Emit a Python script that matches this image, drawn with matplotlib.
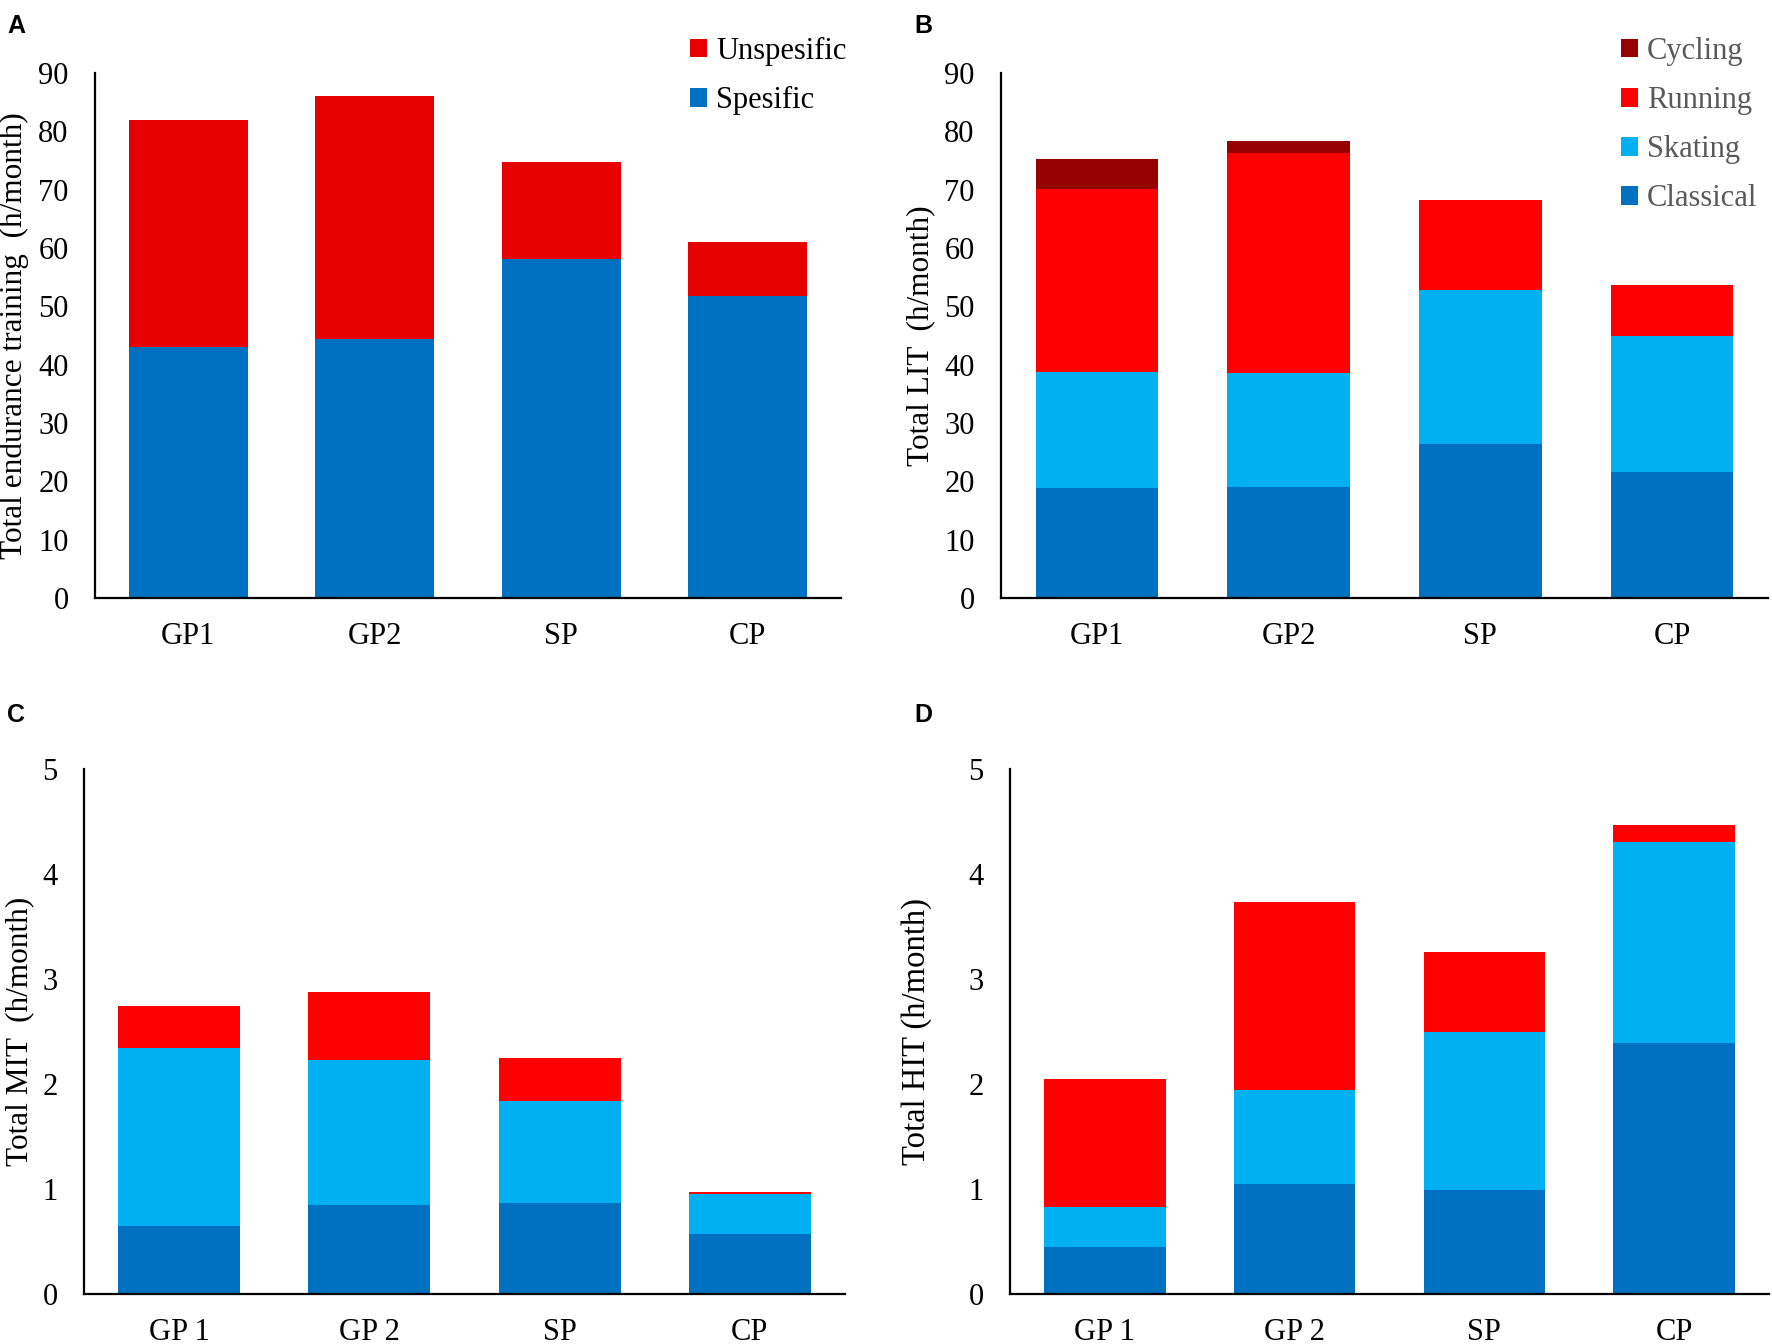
import numpy as np
import matplotlib.pyplot as plt
from matplotlib.patches import Patch

# panel A
groups_a = ['GP1', 'GP2', 'SP', 'CP']
spesific = [43.1, 44.4, 58.1, 51.8]
unspesific = [38.8, 41.6, 16.6, 9.3]

# panel B (LIT)
groups_b = ['GP1', 'GP2', 'SP', 'CP']
lit_classical = [18.8, 19.1, 26.4, 21.6]
lit_skating = [20.0, 19.5, 26.4, 23.4]
lit_running = [31.4, 37.7, 15.4, 8.7]
lit_cycling = [5.1, 2.0, 0.1, 0.0]

# panel C (MIT)
groups_cd = ['GP 1', 'GP 2', 'SP', 'CP']
mit_classical = [0.65, 0.845, 0.865, 0.57]
mit_skating = [1.69, 1.385, 0.97, 0.386]
mit_running = [0.40, 0.65, 0.41, 0.012]

# panel D (HIT)
hit_classical = [0.447, 1.048, 0.99, 2.39]
hit_skating = [0.383, 0.897, 1.51, 1.915]
hit_running = [1.222, 1.79, 0.756, 0.16]

BLUE = '#0070C0'
LIGHT = '#00B0F0'
RED = '#FF0000'
RED_A = '#E60000'
DARK = '#960000'

plt.rcParams['font.family'] = ['Liberation Serif', 'DejaVu Serif']

fig = plt.figure(figsize=(17.72, 13.44), dpi=100)
W, H = 1772.0, 1344.0


def make_ax(left, right, top, bottom):
    return fig.add_axes([left / W, 1 - bottom / H, (right - left) / W, (bottom - top) / H])


def style(ax, groups, ymax, step):
    x = np.arange(len(groups))
    ax.set_xlim(-0.5, len(groups) - 0.5)
    ax.set_ylim(0, ymax)
    ax.set_yticks(np.arange(0, ymax + step / 2, step))
    ax.set_xticks(x)
    ax.set_xticklabels(groups)
    for s in ['top', 'right']:
        ax.spines[s].set_visible(False)
    for s in ['left', 'bottom']:
        ax.spines[s].set_linewidth(1.6)
        ax.spines[s].set_color('black')
    ax.tick_params(axis='y', length=0, pad=19, labelsize=22)
    ax.tick_params(axis='x', length=0, pad=17, labelsize=22)


def stack(ax, series, colors):
    x = np.arange(len(series[0]))
    bottom = np.zeros(len(x))
    for vals, c in zip(series, colors):
        ax.bar(x, vals, 0.64, bottom=bottom, color=c, linewidth=0)
        bottom += np.asarray(vals)


def ylabel(ax, text, xfig, size):
    ax.set_ylabel(text, fontsize=size)
    pos = ax.get_position()
    ax.yaxis.set_label_coords(xfig / W, pos.y0 + pos.height / 2, transform=fig.transFigure)
    ax.yaxis.label.set_va('center')


def legend(ax, labels, colors, xfig, yfig, textcolor):
    handles = [Patch(facecolor=c, edgecolor='none') for c in colors]
    ax.legend(handles, labels, loc='upper left', bbox_to_anchor=(xfig / W, 1 - yfig / H),
              bbox_transform=fig.transFigure, frameon=False, fontsize=22,
              handlelength=0.55, handleheight=0.55, handletextpad=0.3,
              labelspacing=0.66, borderpad=0, borderaxespad=0, labelcolor=textcolor)


ax_a = make_ax(95, 841, 73, 598)
stack(ax_a, [spesific, unspesific], [BLUE, RED_A])
style(ax_a, groups_a, 90, 10)
ylabel(ax_a, 'Total endurance training  (h/month)', 14, 22.5)
legend(ax_a, ['Unspesific', 'Spesific'], [RED_A, BLUE], 690, 37, 'black')

ax_b = make_ax(1001, 1768, 73, 598)
stack(ax_b, [lit_classical, lit_skating, lit_running, lit_cycling], [BLUE, LIGHT, RED, DARK])
style(ax_b, groups_b, 90, 10)
ylabel(ax_b, 'Total LIT  (h/month)', 921, 22.5)
legend(ax_b, ['Cycling', 'Running', 'Skating', 'Classical'], [DARK, RED, LIGHT, BLUE], 1621, 37, '#595959')

ax_c = make_ax(84, 845, 769, 1294)
stack(ax_c, [mit_classical, mit_skating, mit_running], [BLUE, LIGHT, RED])
style(ax_c, groups_cd, 5, 1)
ylabel(ax_c, 'Total MIT  (h/month)', 20, 22.5)

ax_d = make_ax(1010, 1769, 769, 1294)
stack(ax_d, [hit_classical, hit_skating, hit_running], [BLUE, LIGHT, RED])
style(ax_d, groups_cd, 5, 1)
ylabel(ax_d, 'Total HIT (h/month)', 917, 23.5)

for lab, x, y in [('A', 7, 14), ('B', 914, 14), ('C', 7, 703), ('D', 914, 703)]:
    fig.text(x / W, 1 - y / H, lab, family=['Liberation Sans', 'DejaVu Sans'],
             fontweight='bold', fontsize=18, ha='left', va='top')

fig.savefig('out.png', dpi=100)
